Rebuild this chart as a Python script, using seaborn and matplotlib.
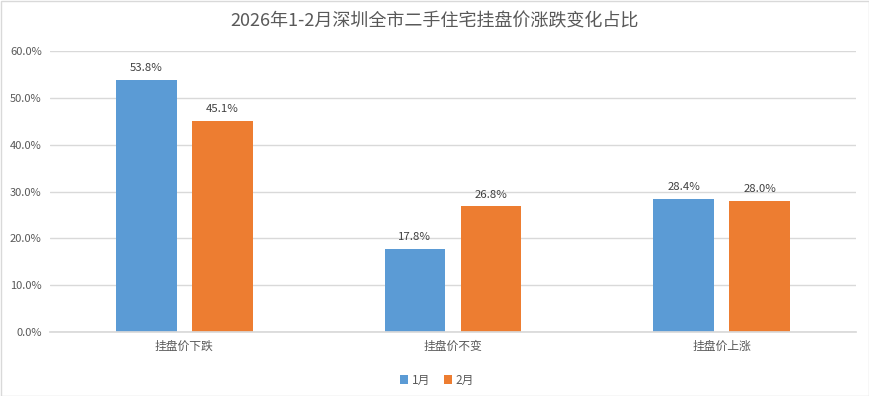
import matplotlib
matplotlib.use("Agg")
import matplotlib.pyplot as plt
import seaborn as sns
import pandas as pd

categories = ["挂盘价下跌", "挂盘价不变", "挂盘价上涨"]
series_names = ["1月", "2月"]
jan_values = [53.8, 17.8, 28.4]
feb_values = [45.1, 26.8, 28.0]
yticks = [0, 10, 20, 30, 40, 50, 60]
title = "2026年1-2月深圳全市二手住宅挂盘价涨跌变化占比"

sns.set_theme(style="white")
plt.rcParams['font.family'] = ['Noto Sans CJK SC', 'DejaVu Sans']

df = pd.DataFrame({
    "category": categories * 2,
    "series": [series_names[0]] * 3 + [series_names[1]] * 3,
    "value": jan_values + feb_values,
})

fig = plt.figure(figsize=(8.7, 3.96), dpi=100)
ax = fig.add_axes([50/870, 64/396, 806/870, 281/396])

sns.barplot(data=df, x="category", y="value", hue="series", order=categories,
            hue_order=series_names, palette=["#5B9BD5", "#ED7D31"],
            width=0.566, gap=0.2, ax=ax, legend=True, saturation=1,
            linewidth=0, edgecolor="none")

ax.set_ylim(0, 60)
ax.set_xlim(-0.5, 2.5)
ax.set_yticks(yticks)
ax.set_yticklabels([f"{v:.1f}%" for v in yticks], color="#595959", fontsize=8)
ax.tick_params(axis="x", labelsize=8.5, colors="#595959", length=0, pad=6)
ax.tick_params(axis="y", length=0, pad=6)
ax.set_xlabel("")
ax.set_ylabel("")
ax.yaxis.grid(True, color="#D9D9D9", linewidth=1)
ax.set_axisbelow(True)
for s in ["top", "right", "left"]:
    ax.spines[s].set_visible(False)
ax.spines["bottom"].set_color("#D9D9D9")

for cont in ax.containers:
    ax.bar_label(cont, labels=[f"{v:.1f}%" for v in cont.datavalues],
                 padding=5, fontsize=8.2, color="#404040")

leg = ax.legend(loc="upper center", bbox_to_anchor=(437/870, 33/396),
                bbox_transform=fig.transFigure, ncol=2, frameon=False,
                fontsize=8.5, handlelength=0.7, handleheight=0.7,
                handletextpad=0.3, columnspacing=1.2)
for t in leg.get_texts():
    t.set_color("#595959")

fig.text(0.5, 1 - 21/396, title, ha="center", va="center",
         fontsize=13, color="#595959")

fig.patches.append(plt.Rectangle((0.001, 0.001), 0.998, 0.997,
                                 transform=fig.transFigure, fill=False,
                                 edgecolor="#D9D9D9", linewidth=1))

fig.savefig("out.png", dpi=100)
